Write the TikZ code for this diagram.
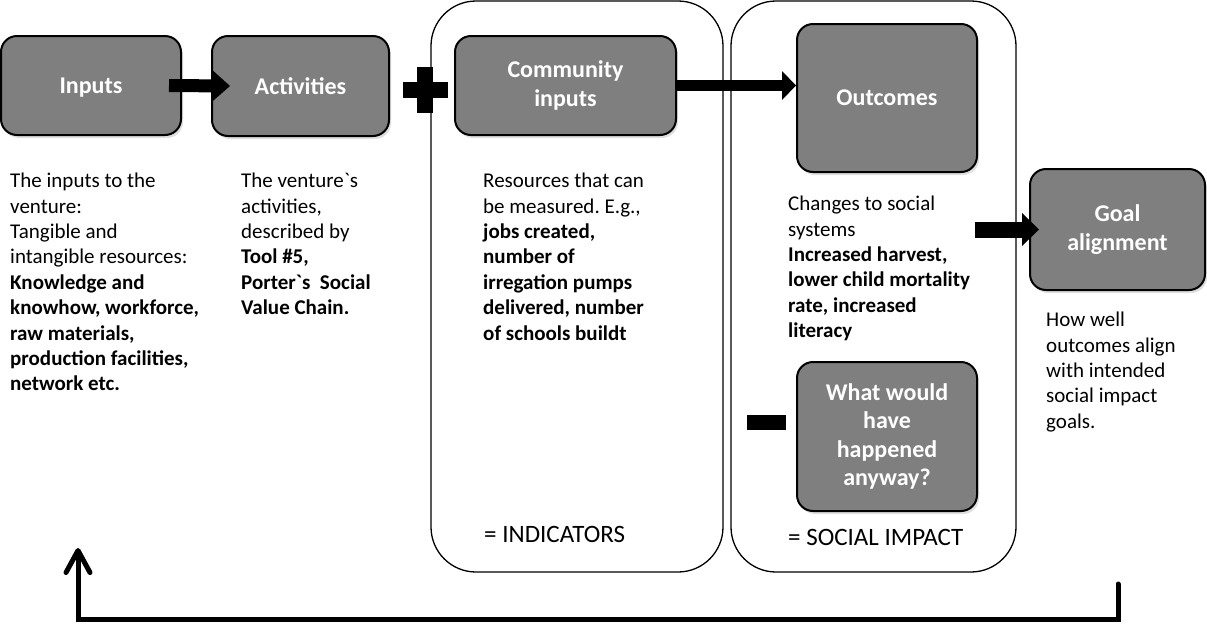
\documentclass[tikz,border=0pt]{standalone}
\usepackage{fontspec}
\setmainfont{Carlito}
\usepackage{tikz}
\usetikzlibrary{arrows.meta, shapes, positioning, calc, shadows}

\definecolor{boxgray}{HTML}{7F7F7F}

\begin{document}
\begin{tikzpicture}[
    x=1pt, y=-1pt,
    % Styles
    stage/.style={rectangle, draw=black, line width=2pt, rounded corners=16pt, fill=boxgray, text=white, font=\fontsize{24}{28.5}\selectfont\bfseries, align=center, inner sep=2pt, drop shadow={opacity=0.25, shadow xshift=2pt, shadow yshift=-3pt}},
    panel/.style={rectangle, draw=black, line width=1.3pt, rounded corners=45pt},
    desc/.style={font=\fontsize{21}{25.4}\selectfont, align=flush left, inner sep=0pt},
    tag/.style={font=\fontsize{25}{28}\selectfont, inner sep=0pt, anchor=base west},
    blockarrow/.style={line width=13pt, -{Triangle[length=18pt, width=32pt, line width=0pt]}},
    feedback/.style={line width=5pt, line cap=round, -{Straight Barb[length=22pt, width=24pt, round]}},
    sign/.style={fill=black}
]
\useasboundingbox (0,0) rectangle (1207,630);

% --- Panels ---
\node[panel, minimum width=292pt, minimum height=571pt] (indicators) at (577,286.5) {};
\node[panel, minimum width=285pt, minimum height=571pt] (impact) at (873.5,286.5) {};

% --- Stages ---
\node[stage, minimum width=180pt, minimum height=99pt, text depth=0pt] (inputs) at (91,85.5) {Inputs};
\node[stage, minimum width=177pt, minimum height=100pt] (activities) at (300.5,86) {Activities};
\node[stage, minimum width=221pt, minimum height=99pt] (community) at (565.5,85.5) {Community\\inputs};
\node[stage, minimum width=180pt, minimum height=148pt] (outcomes) at (887,98) {Outcomes};
\node[stage, minimum width=175pt, minimum height=121pt] (goal) at (1117.5,229.5) {Goal\\alignment};
\node[stage, minimum width=180pt, minimum height=149pt] (anyway) at (887,436.5) {What would\\have\\happened\\anyway?};

% --- Descriptions ---
\node[desc, text width=220pt, below right = 37pt and 10pt of inputs.south west] (inputs_text) {The inputs to the\\venture:\\Tangible and\\intangible resources:\\{\bfseries Knowledge and\\knowhow, workforce,\\raw materials,\\production facilities,\\network etc.}};
\node[desc, text width=180pt, below right = 36pt and 30pt of activities.south west] (activities_text) {The venture\textasciigrave s\\activities,\\described by\\{\bfseries Tool \#5,\\Porter\textasciigrave s\ \ Social\\Value Chain.}};
\node[desc, text width=220pt, below right = 37pt and 29pt of community.south west] (community_text) {Resources that can\\be measured.\ E.g.,\\{\bfseries jobs created,\\number of\\irregation pumps\\delivered, number\\of schools buildt}};
\node[desc, text width=220pt, below right = 23pt and -8pt of outcomes.south west] (outcomes_text) {Changes to social\\systems\\{\bfseries Increased harvest,\\lower child mortality\\rate, increased\\literacy}};
\node[desc, text width=160pt, below right = 21pt and 17pt of goal.south west] (goal_text) {How well\\outcomes align\\with intended\\social impact\\goals.};

\node[tag] (indicators_tag) at (484,542) {= INDICATORS};
\node[tag] (impact_tag) at (788,545) {= SOCIAL IMPACT};

% --- Block arrows ---
\draw[blockarrow] ([xshift=-13pt]inputs.east) -- ([xshift=19pt]activities.west);
\draw[blockarrow, line width=11pt, -{Triangle[length=14pt, width=29pt, line width=0pt]}] (community.east) -- (community.east -| outcomes.west);
\draw[blockarrow, line width=16pt, -{Triangle[length=17pt, width=33pt, line width=0pt]}] ([xshift=-54pt]goal.west) -- ([xshift=10pt]goal.west);

% --- Plus and minus ---
\fill[sign] (403,82) rectangle (448,98);
\fill[sign] (417,67) rectangle (433,113);
\fill[sign] (747,415) rectangle (786,430);

% --- Feedback loop ---
\coordinate (fb_start) at (1118,584);
\coordinate (fb_end) at (78,548);
\draw[line width=5pt, black!20, xshift=2pt, yshift=-3pt] (fb_start) -- ++(0,35) -| ([yshift=-20pt]fb_end);
\draw[feedback] (fb_start) -- ++(0,35) -| (fb_end);

\end{tikzpicture}
\end{document}
